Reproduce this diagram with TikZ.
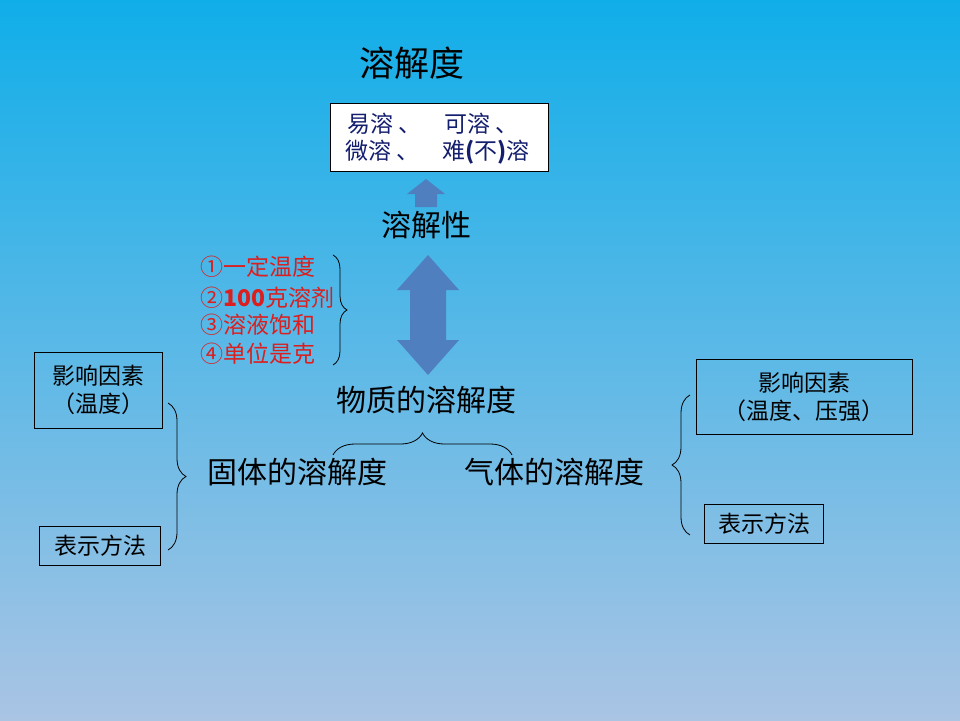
\documentclass[tikz,border=0pt]{standalone}
\usepackage{fontspec}
\newfontfamily\cjk{Noto Sans CJK SC}
\usetikzlibrary{decorations.pathreplacing}
\definecolor{skytop}{RGB}{16,174,233}
\definecolor{skybot}{RGB}{170,196,228}
\definecolor{arrowblue}{RGB}{79,127,191}
\definecolor{navytext}{RGB}{20,30,110}
\definecolor{condred}{RGB}{220,30,30}
\tikzset{
  big/.style={font=\cjk\fontsize{30}{34}\selectfont},
  small/.style={font=\cjk\fontsize{23}{28}\selectfont},
  whitebox/.style={draw=black,fill=white,line width=0.8pt},
  frame/.style={draw=black,line width=0.8pt,inner sep=2pt},
  curly/.style={draw=black,line width=0.8pt,decorate},
}
\begin{document}
\begin{tikzpicture}[x=1pt,y=-1pt]
  \useasboundingbox (0,0) rectangle (960,720);
  \shade[top color=skytop,bottom color=skybot] (0,0) rectangle (960,720);
  % top part
  \node[font=\cjk\fontsize{35}{40}\selectfont] (title) at (412,63) {溶解度};
  \draw[whitebox] (330,103) rectangle (548,171);
  \node[small,text=navytext,anchor=west,inner sep=0pt] (row1) at (347,124) {易溶 、\quad 可溶 、};
  \node[small,text=navytext,anchor=west,inner sep=0pt] (row2) at (345,152) {微溶 、\quad 难\textbf{(}不\textbf{)}溶};
  \fill[arrowblue] (415,207) -- (415,194) -- (407,194) -- (426,179) -- (445,194) -- (437,194) -- (437,207) -- cycle;
  \node[big] (prop) at (426,225) {溶解性};
  \fill[arrowblue] (428,255) -- (459,290) -- (446,290) -- (446,340) -- (459,340) -- (428,375)
    -- (397,340) -- (410,340) -- (410,290) -- (397,290) -- cycle;
  % conditions
  \node[small,text=condred,anchor=west,inner sep=0pt] (c1) at (200,267) {①一定温度};
  \node[small,text=condred,anchor=west,inner sep=0pt] (c2) at (200,298) {②\textbf{100}克溶剂};
  \node[small,text=condred,anchor=west,inner sep=0pt] (c3) at (200,325) {③溶液饱和};
  \node[small,text=condred,anchor=west,inner sep=0pt] (c4) at (200,354) {④单位是克};
  \draw[curly,decoration={brace,amplitude=14pt}] (333,255) -- (333,365);
  % middle
  \node[big] (main) at (426,400) {物质的溶解度};
  \draw[curly,decoration={brace,amplitude=22pt}] (333,455) -- (512,455);
  \node[big] (solid) at (297,472) {固体的溶解度};
  \node[big] (gas) at (554,472) {气体的溶解度};
  % left side
  \node[small,frame,minimum width=128,minimum height=76,align=center] (lfac) at (98,390) {影响因素\\（温度）};
  \node[small,frame,minimum width=121,minimum height=39] (lrep) at (100,546) {表示方法};
  \draw[curly,decoration={brace,amplitude=18pt}] (168,403) -- (168,550);
  % right side
  \node[small,frame,minimum width=216,minimum height=75,align=center] (rfac) at (804,397) {影响因素\\（温度、压强）};
  \node[small,frame,minimum width=119,minimum height=39] (rrep) at (764,524) {表示方法};
  \draw[curly,decoration={brace,amplitude=18pt}] (690,535) -- (690,395);
\end{tikzpicture}
\end{document}
